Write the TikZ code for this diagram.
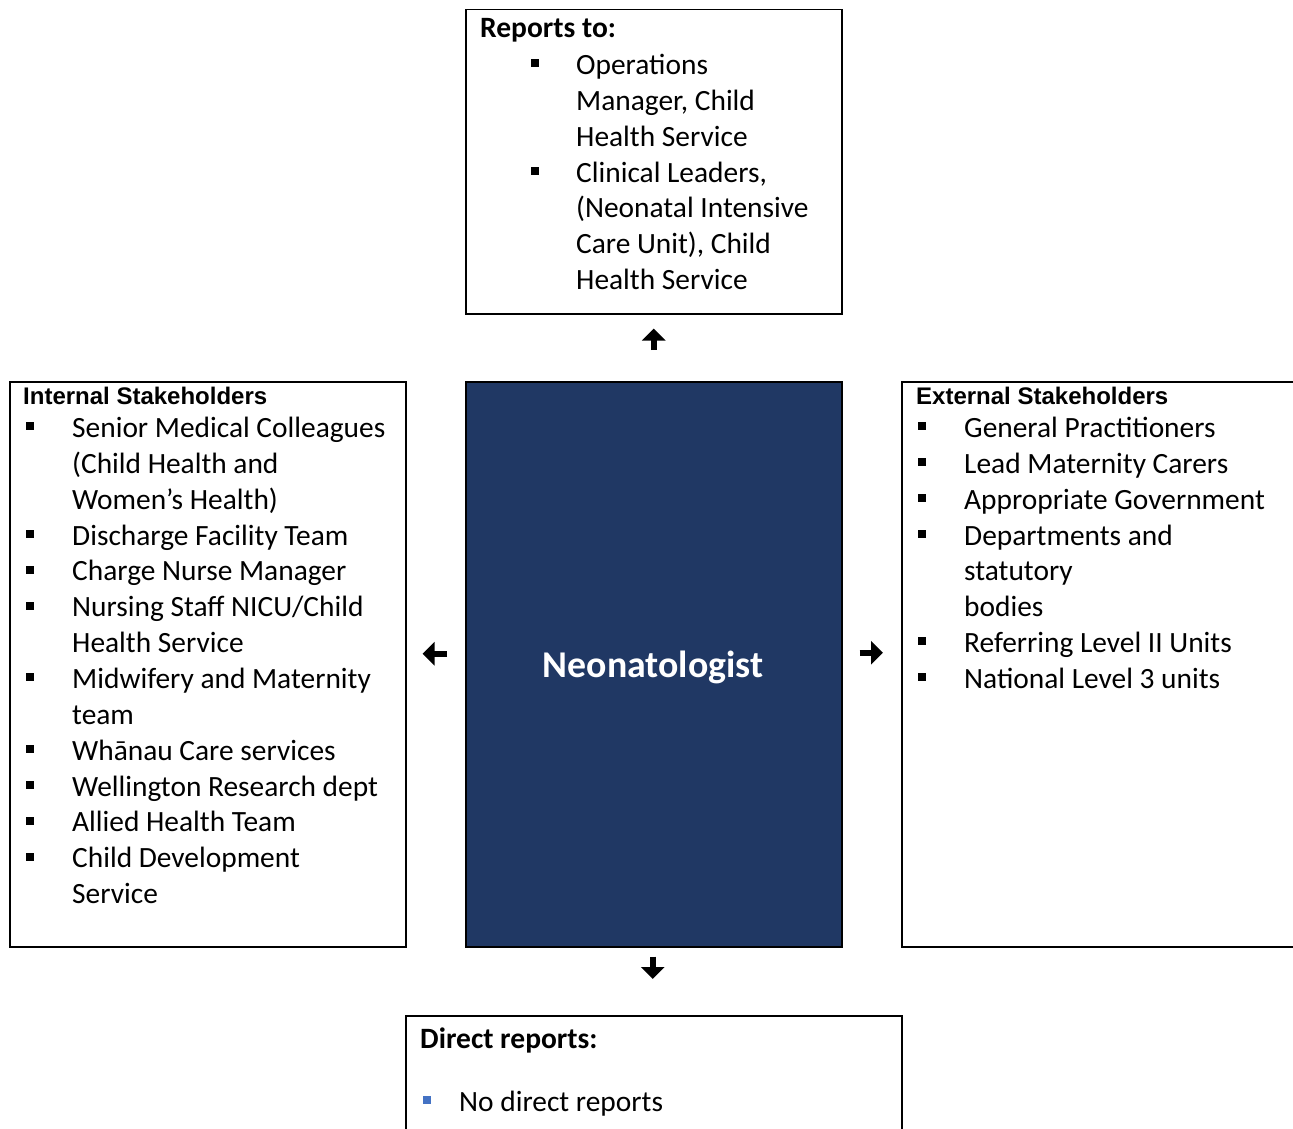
\documentclass[tikz,border=0pt]{standalone}
\usepackage{fontspec}
\setmainfont{Carlito}
\newfontfamily\arialf{Liberation Sans}
\usetikzlibrary{arrows.meta,calc}
\definecolor{navy}{HTML}{203864}
\definecolor{bulblue}{HTML}{4472C4}
\begin{document}
\begin{tikzpicture}[x=1pt,y=-1pt,
 box/.style={draw=black,line width=1.5pt,inner sep=0pt,anchor=north west},
 body/.style={font=\fontsize{29.4}{32}\selectfont, inner sep=0pt, anchor=base west},
 head/.style={font=\arialf\bfseries\fontsize{24}{28}\selectfont, inner sep=0pt, anchor=base west},
 headc/.style={font=\bfseries\fontsize{29.5}{32}\selectfont, inner sep=0pt, anchor=base west},
 sq/.style={fill=black, draw=none, minimum size=8pt, inner sep=0pt, anchor=south west},
 arr/.style={line width=6.5pt, -{Triangle[width=23pt,length=12pt]}}]
\useasboundingbox (0,0) rectangle (1293,1129);
\clip (0,0) rectangle (1293,1129);
% boxes
\node[box, minimum width=376pt, minimum height=304pt] (top) at (465,9) {};
\node[box, minimum width=396pt, minimum height=565pt] (left) at (9,381) {};
\node[box, fill=navy, minimum width=376pt, minimum height=565pt] (center) at (465,381) {};
\node[box, minimum width=420pt, minimum height=565pt] (right) at (901,381) {};
\node[box, minimum width=496pt, minimum height=200pt] (bottom) at (405,1015) {};
% center label
\node[font=\bfseries\fontsize{37.8}{42}\selectfont, text=white, inner sep=0pt, anchor=base] (neo) at (653,677) {Neonatologist};
% headings
\node[headc] (toph) at (480,38) {Reports to:};
\node[head] (lefth) at (23,404) {Internal Stakeholders};
\node[head] (righth) at (916,404) {External Stakeholders};
\node[headc] (both) at (420,1048) {Direct reports:};
% top list
\foreach \b/\t [count=\i from 0] in {1/Operations, 0/{Manager, Child}, 0/Health Service, 1/{Clinical Leaders,}, 0/(Neonatal Intensive, 0/{Care Unit), Child}, 0/Health Service} {
  \node[body] (T\i) at (576,{74.5+35.85*\i}) {\t};
  \ifnum\b=1 \node[sq] (Tb\i) at (531,{74.5+35.85*\i-7}) {};\fi
}
% left list
\foreach \b/\t [count=\i from 0] in {1/Senior Medical Colleagues, 0/(Child Health and, 0/Women’s Health), 1/Discharge Facility Team, 1/Charge Nurse Manager, 1/{Nursing Staff NICU/Child}, 0/Health Service, 1/Midwifery and Maternity, 0/team, 1/Whānau Care services, 1/Wellington Research dept, 1/Allied Health Team, 1/Child Development, 0/Service} {
  \node[body] (L\i) at (72,{437.5+35.85*\i}) {\t};
  \ifnum\b=1 \node[sq] (Lb\i) at (26,{437.5+35.85*\i-7}) {};\fi
}
% right list
\foreach \b/\t [count=\i from 0] in {1/General Practitioners, 1/Lead Maternity Carers, 1/Appropriate Government, 1/Departments and, 0/statutory, 0/bodies, 1/Referring Level II Units, 1/National Level 3 units} {
  \node[body] (R\i) at (964,{437.5+35.85*\i}) {\t};
  \ifnum\b=1 \node[sq] (Rb\i) at (918,{437.5+35.85*\i-7}) {};\fi
}
% bottom list
\node[body] (B0) at (459,1111) {No direct reports};
\node[sq, fill=bulblue] (Bb0) at (423,1104) {};
% arrows
\draw[arr] ($(center.north)+(0,-31)$) -- ($(top.south)+(0,14)$);
\draw[arr] ($(center.west)+(-18,-10.5)$) -- ($(left.east)+(16,-10.5)$);
\draw[arr] ($(center.east)+(17,-11.5)$) -- ($(right.west)+(-18,-11.5)$);
\draw[arr] ($(center.south)+(-1,9)$) -- ($(bottom.north)+(-1,-36)$);
\end{tikzpicture}
\end{document}
